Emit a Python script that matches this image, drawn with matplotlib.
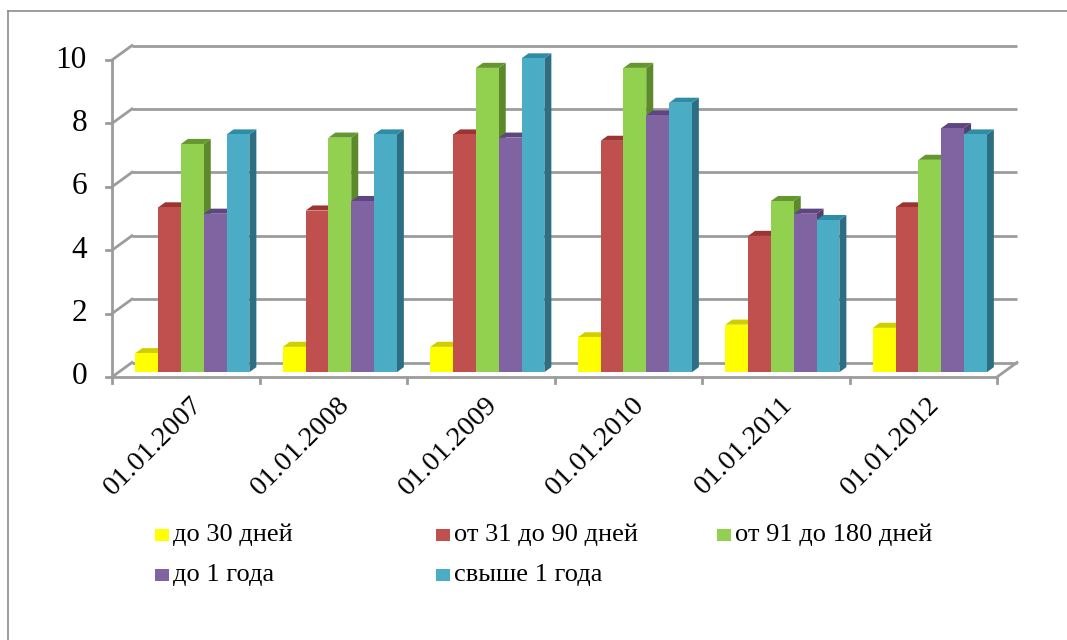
import matplotlib
matplotlib.use("Agg")
import matplotlib.pyplot as plt
import matplotlib.transforms as mtransforms
from matplotlib.patches import Polygon, Rectangle
from matplotlib.lines import Line2D

# ---- data -------------------------------------------------------------
dates = ["01.01.2007", "01.01.2008", "01.01.2009", "01.01.2010", "01.01.2011", "01.01.2012"]
series_names = ["до 30 дней", "от 31 до 90 дней", "от 91 до 180 дней", "до 1 года", "свыше 1 года"]
upto_30 = [0.6, 0.8, 0.8, 1.1, 1.5, 1.4]
d31_90 = [5.2, 5.1, 7.5, 7.3, 4.3, 5.2]
d91_180 = [7.2, 7.4, 9.6, 9.6, 5.4, 6.7]
upto_1y = [5.0, 5.4, 7.4, 8.1, 5.0, 7.7]
over_1y = [7.5, 7.5, 9.9, 8.5, 4.8, 7.5]
series_values = [upto_30, d31_90, d91_180, upto_1y, over_1y]
y_ticks = [0, 2, 4, 6, 8, 10]

# front / top / side shades per series
front_colors = ["#FFFF00", "#C0504D", "#92D050", "#8064A2", "#4BACC6"]
top_colors = ["#CFCF00", "#9C3431", "#66962E", "#5E4780", "#2F8CA6"]
side_colors = ["#B5B500", "#8A2F2C", "#5C8A2A", "#53406F", "#2C6F82"]

W, H = 1067, 640
fig = plt.figure(figsize=(W / 100, H / 100), dpi=100)
fig.patch.set_facecolor("white")

# plot area (front plane) in pixels
x0_px, x1_px = 112, 997
y0_px, y10_px = 377, 60
ax = fig.add_axes([x0_px / W, (H - y0_px) / H, (x1_px - x0_px) / W, (y0_px - y10_px) / H])
ncat = len(dates)
ax.set_xlim(0, ncat)
ax.set_ylim(0, 10)
ax.axis("off")

sx = ncat / (x1_px - x0_px)      # data units per pixel (x)
sy = 10 / (y0_px - y10_px)       # data units per pixel (y)
DX, DY = 20 * sx, 14.5 * sy      # full floor depth

grid_c = "#9C9C9C"
glw = 2.0

# back wall gridlines + left wall diagonals
for t in y_ticks:
    ax.plot([DX, ncat + DX], [t + DY, t + DY], color=grid_c, lw=glw, clip_on=False,
            solid_capstyle="butt", zorder=1)
    ax.plot([0, DX], [t, t + DY], color=grid_c, lw=glw, clip_on=False, zorder=1)
    ax.plot([-6 * sx, 0], [t, t], color=grid_c, lw=glw, clip_on=False, zorder=1)

# left axis line and floor outline
ax.plot([0, 0], [0, 10], color=grid_c, lw=glw, clip_on=False, zorder=1)
ax.plot([0, ncat], [0, 0], color=grid_c, lw=glw, clip_on=False, zorder=6)
ax.plot([ncat, ncat + DX], [0, DY], color=grid_c, lw=glw, clip_on=False, zorder=1)
for i in range(ncat + 1):
    ax.plot([i, i], [0, -6 * sy], color=grid_c, lw=glw, clip_on=False, zorder=6)

# 3D-looking bars
f0, fd = 0.33, 0.35
bw = 0.1546
gap = (1 - bw * len(series_values)) / 2
bx, by = f0 * DX, f0 * DY
ddx, ddy = fd * DX, fd * DY
for i in range(ncat):
    for k, vals in enumerate(series_values):
        v = vals[i]
        x = i + gap + k * bw + bx
        z = 3 + k * 0.1
        side = Polygon([(x + bw, by), (x + bw + ddx, by + ddy),
                        (x + bw + ddx, v + by + ddy), (x + bw, v + by)],
                       closed=True, facecolor=side_colors[k], edgecolor="none",
                       clip_on=False, zorder=z)
        ax.add_patch(side)
        top = Polygon([(x, v + by), (x + bw, v + by), (x + bw + ddx, v + by + ddy),
                       (x + ddx, v + by + ddy)],
                      closed=True, facecolor=top_colors[k], edgecolor="none",
                      clip_on=False, zorder=z + 0.01)
        ax.add_patch(top)
        ax.bar(x, v, width=bw, bottom=by, align="edge", color=front_colors[k],
               edgecolor="none", clip_on=False, zorder=z + 0.02)

serif = ["Liberation Serif", "DejaVu Serif"]

# y tick labels
ylab_tr = mtransforms.offset_copy(ax.transData, fig=fig, x=-25, y=0, units="dots")
for t in y_ticks:
    ax.text(0, t, str(t), transform=ylab_tr, ha="right", va="center",
            fontsize=22.5, family=serif, color="black")

# rotated category labels
xlab_tr = mtransforms.offset_copy(ax.transData, fig=fig, x=4, y=-15, units="dots")
for i, d in enumerate(dates):
    ax.text(i + 0.5, 0, d, transform=xlab_tr, rotation=45, rotation_mode="anchor",
            ha="right", va="top", fontsize=20.5, family=serif, color="black")

# legend, laid out as a 3-column grid
leg_x0, leg_col_w = 155, 281
leg_y0, leg_row_h = 535, 40
sq_w, sq_h = 14, 12
for idx, name in enumerate(series_names):
    r, c = divmod(idx, 3)
    lx = leg_x0 + c * leg_col_w
    ly = leg_y0 + r * leg_row_h
    fig.patches.append(Rectangle((lx / W, (H - ly - sq_h / 2) / H), sq_w / W, sq_h / H,
                                 transform=fig.transFigure, facecolor=front_colors[idx],
                                 edgecolor="none"))
    fig.text((lx + sq_w + 4) / W, (H - ly) / H, name, ha="left", va="center",
             fontsize=19, family=serif, color="black")

# chart-area frame
fig.add_artist(Line2D([7.5 / W, 7.5 / W], [0, (H - 10.5) / H], transform=fig.transFigure,
                      color="#8C8C8C", lw=1.2))
fig.add_artist(Line2D([7.5 / W, 1], [(H - 10.5) / H, (H - 10.5) / H], transform=fig.transFigure,
                      color="#8C8C8C", lw=1.2))

fig.savefig("out.png", dpi=100)
